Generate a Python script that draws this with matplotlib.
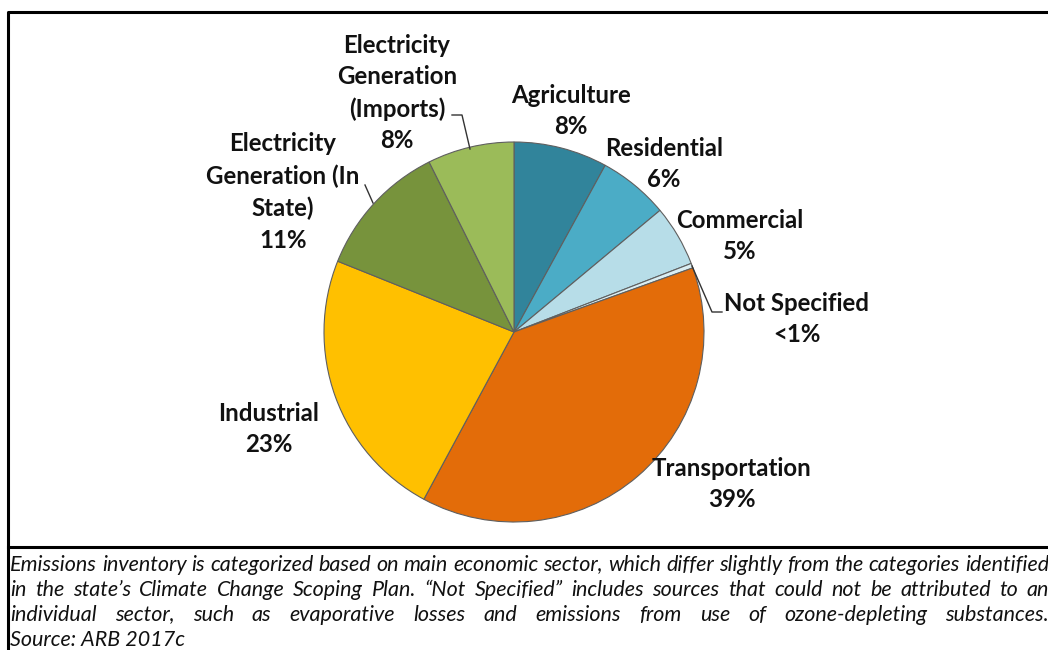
import matplotlib
matplotlib.use("Agg")
import matplotlib.pyplot as plt

# ---- data ----
sectors = ["Agriculture", "Residential", "Commercial", "Not Specified",
           "Transportation", "Industrial", "Electricity Generation (In State)",
           "Electricity Generation (Imports)"]
shares = [8.0, 6.0, 5.2, 0.4, 38.5, 23.3, 11.6, 7.4]
pct_labels = ["8%", "6%", "5%", "<1%", "39%", "23%", "11%", "8%"]
colors = ["#31849B", "#4BACC6", "#B7DDE8", "#DAEEF3",
          "#E36C09", "#FFC000", "#77933C", "#9BBB59"]
caption_lines = [
    "Emissions inventory is categorized based on main economic sector, which differ slightly from the categories identified",
    "in the state\u2019s Climate Change Scoping Plan. \u201cNot Specified\u201d includes sources that could not be attributed to an",
    "individual sector, such as evaporative losses and emissions from use of ozone-depleting substances.",
    "Source: ARB 2017c",
]

W, H = 1048, 650
fig = plt.figure(figsize=(W / 100, H / 100), dpi=100)
ax = fig.add_axes([0, 0, 1, 1])

def Y(py):
    return H - py

ax.pie(shares, colors=colors, startangle=90, counterclock=False,
       center=(514, Y(332)), radius=190, frame=True,
       wedgeprops=dict(edgecolor="#5f5f5f", linewidth=0.8))
ax.set_xlim(0, W)
ax.set_ylim(0, H)
ax.set_aspect("auto")
ax.axis("off")

# frame & divider
ax.plot([8, 8, 1060], [Y(700), Y(12), Y(12)], color="black", lw=2.2, clip_on=False)
ax.plot([8, 1060], [Y(547), Y(547)], color="black", lw=2.2)

lab_font = dict(family=["Lato", "DejaVu Sans"], fontweight="bold", fontsize=17.3,
                color="#111111", ha="center", va="center", linespacing=1.45)

label_text = {
    0: ("Agriculture", (571, 111)),
    1: ("Residential", (664, 164)),
    2: ("Commercial", (740, 236)),
    3: ("Not Specified", (797, 319)),
    4: ("Transportation", (732, 484)),
    5: ("Industrial", (269, 429)),
    6: ("Electricity\nGeneration (In\nState)", (283, 192)),
    7: ("Electricity\nGeneration\n(Imports)", (397, 93)),
}
for i, (txt, (px, py)) in label_text.items():
    ax.text(px, Y(py), txt + "\n" + pct_labels[i], **lab_font)

# leader lines
ax.plot([692, 712, 722], [Y(266), Y(312), Y(312)], color="#333333", lw=1)
ax.plot([452, 462, 470], [Y(115), Y(115), Y(149)], color="#333333", lw=1)
ax.plot([365, 373], [Y(185), Y(203)], color="#333333", lw=1)

# justified caption
cap_family = ["Lato", "DejaVu Sans"]
renderer = fig.canvas.get_renderer()
left, right = 10, 1049
base = 12.0
probe = ax.text(0, 0, caption_lines[0], family=cap_family, style="italic", fontsize=base)
pw = probe.get_window_extent(renderer=renderer).width
probe.remove()
cap_size = base * (right - left - 4) / pw

cap_font = dict(family=cap_family, style="italic", fontsize=cap_size,
                color="#111111", va="baseline", ha="left")
baselines = [571, 596, 621, 646]
for li, (line, py) in enumerate(zip(caption_lines, baselines)):
    words = line.split(" ")
    if li == len(caption_lines) - 1:
        ax.text(left, Y(py), line, **cap_font)
        continue
    texts = []
    widths = []
    for w in words:
        t = ax.text(0, Y(py), w, **cap_font)
        bb = t.get_window_extent(renderer=renderer)
        texts.append(t)
        widths.append(bb.width)
    gap = (right - left - sum(widths)) / (len(words) - 1)
    x = left
    for t, wd in zip(texts, widths):
        t.set_x(x)
        x += wd + gap

fig.savefig("out.png", dpi=100)
